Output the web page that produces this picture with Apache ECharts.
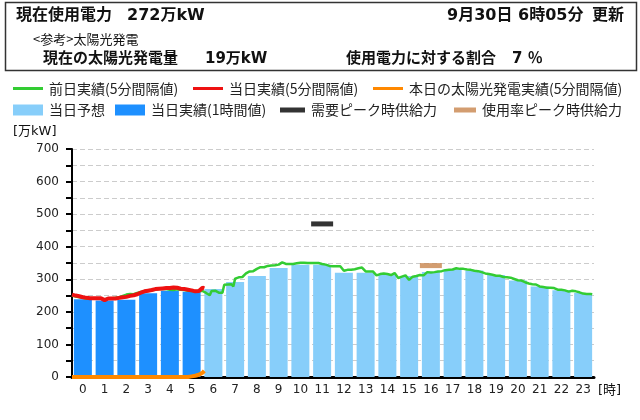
<!DOCTYPE html>
<html><head><meta charset="utf-8">
<script src="https://cdn.jsdelivr.net/npm/echarts@6/dist/echarts.min.js"></script>
<style>html,body{margin:0;padding:0;background:#fff}#c{width:640px;height:420px}</style>
</head><body><div id="c"></div>
<script>
// hour categories (tick labels)
const hours = ['0','1','2','3','4','5','6','7','8','9','10','11','12','13','14','15','16','17','18','19','20','21','22','23'];
// hourly actual (万kW), hours 0-5
const actualHourly = [239,235,237,257,265,262,null,null,null,null,null,null,null,null,null,null,null,null,null,null,null,null,null,null];
// hourly forecast (万kW), hours 6-23
const forecastHourly = [null,null,null,null,null,null,270,292,310,335,345,345,320,320,314,310,322,331,327,313,296,278,266,258];
// previous day 5-minute values (万kW), 0:00 - 23:55
const prevDay5min = [
250,249,247,246,245,244,243,241,240,240,241,241,
241,241,240,240,240,239,238,240,241,241,242,243,
243,244,245,247,249,251,253,254,255,255,254,256,
258,259,261,262,263,264,265,266,267,268,268,269,
270,270,271,271,270,269,268,268,267,268,269,269,
268,268,267,266,265,264,264,263,263,264,265,265,
264,262,258,254,251,264,265,265,263,259,260,259,
283,284,284,284,285,278,302,306,306,306,307,307,
318,322,324,324,325,326,332,336,337,338,337,332,
341,341,342,341,343,344,345,348,352,348,347,347,
347,348,347,347,349,351,351,351,351,350,350,350,
350,351,350,351,350,349,347,345,345,344,341,340,
340,340,340,339,340,338,326,328,329,329,329,330,
331,334,334,335,336,340,324,324,324,324,324,322,
312,315,316,317,318,324,316,312,313,312,319,318,
304,306,308,308,312,317,298,304,308,309,310,316,
313,312,312,315,322,321,321,321,322,324,324,324,
325,327,328,329,329,329,330,331,334,333,332,332,
332,331,330,329,329,329,326,326,325,322,322,320,
318,318,316,314,314,313,311,311,311,310,307,306,
306,306,305,302,301,300,297,296,296,294,291,291,
287,285,285,285,284,280,278,278,276,274,274,274,
274,274,273,270,268,266,268,267,266,262,262,262,
265,268,263,262,260,257,256,255,255,255,255,254];
// today 5-minute values (万kW), 0:00 - 6:05
const today5min = [
253,251,250,249,248,247,245,244,243,242,242,242,
242,241,242,242,242,243,236,239,241,240,241,242,
241,242,243,244,245,244,246,247,249,250,251,252,
254,257,259,261,263,264,265,266,267,269,270,270,
271,272,272,271,273,274,273,274,275,274,274,273,
271,272,270,270,268,267,266,264,263,262,264,270,
274,272];
// solar 5-minute values (万kW), 0:00 - 6:05
const solar5min = [
0,0,0,0,0,0,0,0,0,0,0,0,
0,0,0,0,0,0,0,0,0,0,0,0,
0,0,0,0,0,0,0,0,0,0,0,0,
0,0,0,0,0,0,0,0,0,0,0,0,
0,0,0,0,0,0,0,0,0,0,0,0,
0,0,0,0,0,1,2,3,4,5,7,9,
13,19];
const stepMinutes = 5;
// peak supply capacities
const demandPeakHour = '11', demandPeakValue = 470;
const usagePeakHour = '16', usagePeakValue = 342;

const toXY = arr => arr.map((v, i) => [i * stepMinutes, v]);
const CJK = '"Noto Sans CJK JP", sans-serif';
const MIX = '"DejaVu Sans", "Noto Sans CJK JP", sans-serif';

const chart = echarts.init(document.getElementById('c'));

function lg(name, left, top, w, h) {
  return {
    data: [{name: name, icon: 'rect'}], left: left, top: top,
    itemWidth: w, itemHeight: h, itemGap: 0, padding: 0, selectedMode: false,
    textStyle: {fontSize: 14, fontFamily: CJK, color: '#222', padding: [0, 0, 0, 1]}
  };
}

const hdr = (text, x, y, size, bold, font) => ({
  type: 'text', x: x, y: y,
  style: {text: text, fill: '#111', font: (bold ? 'bold ' : '') + size + 'px ' + (font || MIX), verticalAlign: 'middle'}
});

chart.setOption({
  animation: false,
  backgroundColor: '#fff',
  grid: {left: 72, right: 46, top: 149, bottom: 43},
  legend: [
    lg('前日実績(5分間隔値)', 13, 81.5, 30, 3),
    lg('当日実績(5分間隔値)', 193, 81.5, 30, 3),
    lg('本日の太陽光発電実績(5分間隔値)', 373, 81.5, 30, 3),
    lg('当日予想', 13, 103, 30, 11),
    lg('当日実績(1時間値)', 115, 103, 30, 11),
    lg('需要ピーク時供給力', 280, 103, 25, 5),
    lg('使用率ピーク時供給力', 454, 103, 22, 5)
  ],
  graphic: [
    {type: 'rect', shape: {x: 5.5, y: 2.5, width: 631, height: 68}, style: {fill: 'none', stroke: '#333', lineWidth: 1.5}},
    hdr('現在使用電力', 16, 16, 16, true),
    hdr('272万kW', 127, 16, 16, true),
    hdr('9月30日', 447, 16, 16, true),
    hdr('6時05分', 518, 16, 16, true),
    hdr('更新', 592, 16, 16, true),
    hdr('<参考>太陽光発電', 33, 39, 13, false, CJK),
    hdr('現在の太陽光発電量', 43, 59.5, 15, true),
    hdr('19万kW', 205, 59.5, 15, true),
    hdr('使用電力に対する割合', 346, 59.5, 15, true),
    hdr('7 ％', 512, 59.5, 15, true),
    hdr('[万kW]', 13, 132, 13, false),
    hdr('[時]', 598, 391, 13, false)
  ],
  xAxis: [
    {type: 'category', data: hours, boundaryGap: true,
     axisLine: {lineStyle: {color: '#000', width: 3}}, axisTick: {show: false},
     axisLabel: {color: '#222', fontSize: 12, fontFamily: MIX, margin: 7, interval: 0},
     splitLine: {show: false}},
    {type: 'value', min: 0, max: 1440, show: false, splitLine: {show: false}}
  ],
  yAxis: {
    type: 'value', min: 0, max: 700, interval: 50,
    axisLine: {show: true, lineStyle: {color: '#000', width: 2}},
    axisTick: {show: true, length: 6, lineStyle: {color: '#000', width: 2}},
    axisLabel: {color: '#222', fontSize: 12, fontFamily: MIX, margin: 13,
      formatter: v => (v % 100 === 0 ? String(v) : '')},
    splitLine: {show: true, lineStyle: {color: '#cccccc', type: [5, 3], width: 1}}
  },
  series: [
    {name: '当日予想', type: 'bar', xAxisIndex: 0, data: forecastHourly, barWidth: 18, barGap: '-100%',
     itemStyle: {color: '#87CEFA'}, z: 2},
    {name: '当日実績(1時間値)', type: 'bar', xAxisIndex: 0, data: actualHourly, barWidth: 18, barGap: '-100%',
     itemStyle: {color: '#1E90FF'}, z: 2},
    {name: '前日実績(5分間隔値)', type: 'line', xAxisIndex: 1, data: toXY(prevDay5min), showSymbol: false,
     itemStyle: {color: '#33cc33'}, lineStyle: {color: '#33cc33', width: 2.5}, z: 3},
    {name: '当日実績(5分間隔値)', type: 'line', xAxisIndex: 1, data: toXY(today5min), showSymbol: false,
     itemStyle: {color: '#ee1111'}, lineStyle: {color: '#ee1111', width: 4}, z: 4},
    {name: '本日の太陽光発電実績(5分間隔値)', type: 'line', xAxisIndex: 1, data: toXY(solar5min), showSymbol: false, clip: false,
     itemStyle: {color: '#ff8800'}, lineStyle: {color: '#ff8800', width: 4}, z: 5},
    {name: '需要ピーク時供給力', type: 'scatter', xAxisIndex: 0, symbol: 'rect', symbolSize: [22, 5],
     data: [[demandPeakHour, demandPeakValue]], itemStyle: {color: '#000'}, z: 6},
    {name: '使用率ピーク時供給力', type: 'scatter', xAxisIndex: 0, symbol: 'rect', symbolSize: [22, 5],
     data: [[usagePeakHour, usagePeakValue]], itemStyle: {color: '#c8844c'}, z: 6}
  ]
});
</script>
</body></html>
